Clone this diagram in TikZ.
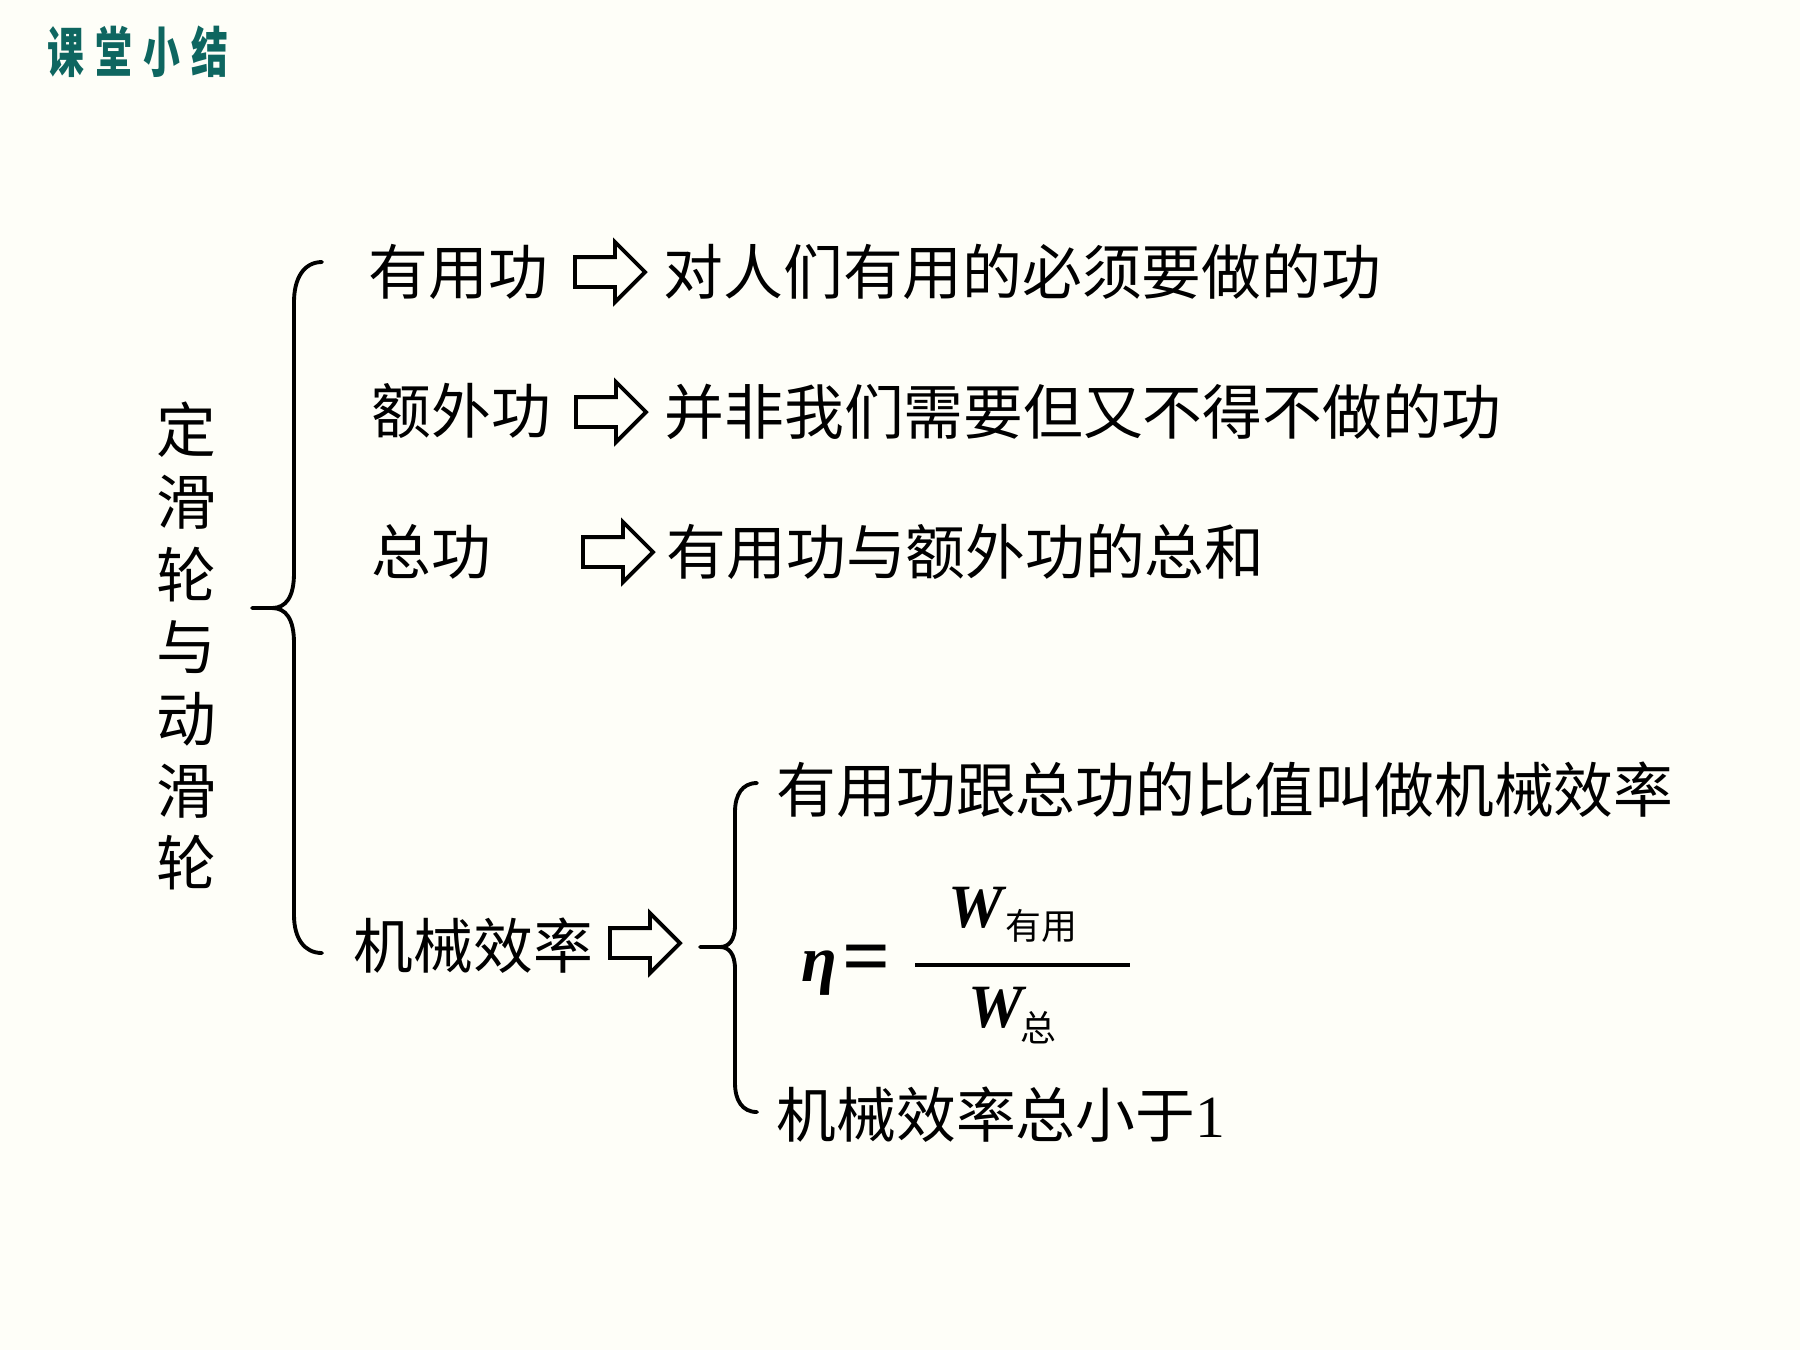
\documentclass[tikz,border=0pt]{standalone}
\usepackage{fontspec}
\usepackage{graphicx}
\setmainfont{Liberation Serif}
\newfontfamily\cjk{Noto Sans CJK SC}
\newfontfamily\tnr{Liberation Serif}
\usetikzlibrary{shapes.arrows,positioning}
\definecolor{titleteal}{RGB}{14,102,96}
\definecolor{paper}{RGB}{254,254,248}

\begin{document}
\begin{tikzpicture}[
    x=0.01cm, y=-0.01cm,
    item/.style={anchor=west, inner sep=0pt, font=\cjk\fontsize{17}{20}\selectfont},
    hollow/.style={single arrow, draw=black, line width=1.1pt, fill=paper, minimum height=0.7cm, inner sep=0.13cm, single arrow head extend=0.15cm, outer sep=0pt, anchor=tip},
    curly/.style={line width=1.1pt, line cap=round},
    sym/.style={inner sep=0pt, font=\tnr\bfseries\itshape\fontsize{17.5}{20}\selectfont}
]
% page
\fill[paper] (0,0) rectangle (1800,1350);

% Title
\node[inner sep=0pt, text=titleteal, font=\cjk\bfseries\fontsize{15.4}{18}\selectfont] (title) at (138,52)
    {\scalebox{0.68}[1]{课\hspace{4.7pt}堂\hspace{4.7pt}小\hspace{4.7pt}结}};

% Topic on the left
\node[inner sep=0pt, align=center, font=\cjk\fontsize{17}{20.5}\selectfont] (topic) at (186,646)
    {定\\滑\\轮\\与\\动\\滑\\轮};

% Work rows
\node[item] (useful) at (368,272) {有用功};
\node[hollow] (arr1) at (645,272) {};
\node[item, right=0.18cm of arr1.tip] (usefuldef) {对人们有用的必须要做的功};

\node[item] (extra) at (371,411) {额外功};
\node[hollow] (arr2) at (646,412) {};
\node[item, right=0.18cm of arr2.tip] (extradef) {并非我们需要但又不得不做的功};

\node[item] (total) at (371,552) {总功};
\node[hollow] (arr3) at (653,552) {};
\node[item, right=0.13cm of arr3.tip] (totaldef) {有用功与额外功的总和};

% Efficiency row
\node[item] (eff) at (353,946) {机械效率};
\node[hollow] (arr4) at (680,943) {};

\node[item] (effdef) at (776,790) {有用功跟总功的比值叫做机械效率};
\node[item] (efflim) at (776,1115) {机械效率总小于{\tnr 1}};

% Formula
\node[sym, anchor=base, font=\tnr\bfseries\itshape\fontsize{18.5}{20}\selectfont] (eta) at (819,981) {η};
\node[inner sep=0pt, font=\tnr\bfseries\fontsize{24}{26}\selectfont] (eq) at (867,965) {=};
\coordinate (barl) at (915,965);
\coordinate (barr) at (1130,965);
\draw[line width=1.14pt] (barl) -- (barr);
\node[sym, anchor=base] (wtop) at (976,927) {W};
\node[item, font=\cjk\fontsize{10.2}{12}\selectfont] (wtopsub) at (1005,926) {有用};
\node[sym, anchor=base] (wbot) at (996,1027) {W};
\node[inner sep=0pt, font=\cjk\fontsize{10.2}{12}\selectfont] (wbotsub) at (1038,1028) {总};

% Braces
\coordinate (b1top) at (322,262);
\coordinate (b1tip) at (252,608);
\coordinate (b1bot) at (322,953);
\draw[curly] (b1top) .. controls (304,262) and (294,278) .. (294,302) -- (294,573)
    .. controls (294,597) and (286,608) .. (272,608) -- (b1tip);
\draw[curly] (272,608) .. controls (286,608) and (294,619) .. (294,643) -- (294,915)
    .. controls (294,938) and (304,953) .. (b1bot);
\coordinate (b2top) at (757,783);
\coordinate (b2tip) at (700,947);
\coordinate (b2bot) at (757,1112);
\draw[curly] (b2top) .. controls (742,783) and (735,795) .. (735,812) -- (735,925)
    .. controls (735,940) and (729,947) .. (720,947) -- (b2tip);
\draw[curly] (720,947) .. controls (729,947) and (735,954) .. (735,969) -- (735,1083)
    .. controls (735,1100) and (742,1112) .. (b2bot);

\end{tikzpicture}
\end{document}
